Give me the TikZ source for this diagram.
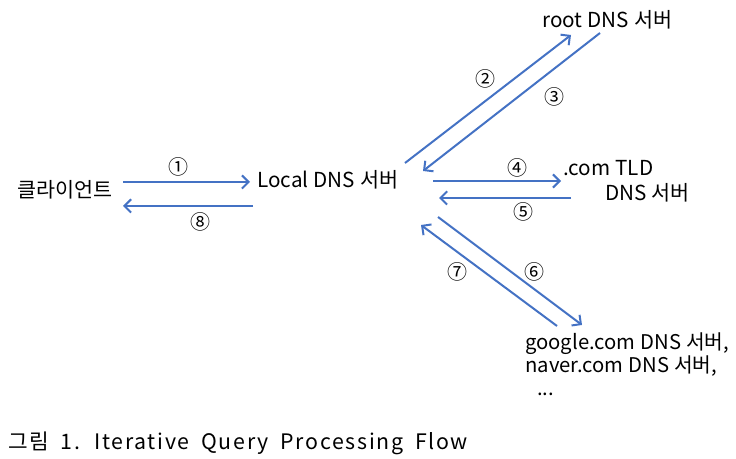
\documentclass[tikz,border=0pt]{standalone}
\usepackage{fontspec}
\setmainfont{Noto Sans CJK KR}
\newfontfamily\lblfont[WordSpace=1.6]{Noto Sans CJK KR}
\newfontfamily\authfont[WordSpace=1.1]{Noto Sans CJK KR}
\newfontfamily\capfont[LetterSpace=8,WordSpace=1.8]{Noto Sans CJK KR}
\usetikzlibrary{arrows.meta}
\definecolor{arrowblue}{RGB}{68,114,196}
\begin{document}
\begin{tikzpicture}[x=0.75pt,y=-0.75pt,
  lbl/.style={inner sep=0pt, font=\lblfont\fontsize{15.5}{17.25}\selectfont, text=black},
  num/.style={inner sep=0pt, font=\fontsize{15}{15}\selectfont, text=black},
  flow/.style={draw=arrowblue, line width=1.5pt, -{Straight Barb[length=5pt,width=10pt,line width=1.5pt]}}]
\useasboundingbox (0,0) rectangle (736,459);
% nodes
\node[lbl,anchor=west] (client) at (17,190) {클라이언트};
\node[lbl,anchor=west] (local) at (257,180) {Local DNS 서버};
\node[lbl,anchor=west] (root) at (542,20) {root DNS 서버};
\node[lbl,anchor=west] (tld) at (563,168) {.com TLD};
\node[lbl,anchor=west] (tldb) at (605,193) {DNS 서버};
\node[lbl,font=\authfont\fontsize{15.2}{17.25}\selectfont,anchor=north west,align=left] (auth) at (525,332) {google.com DNS 서버,\\naver.com DNS 서버,\\\hspace*{9pt}...};
\node[anchor=west,inner sep=0pt,font=\capfont\fontsize{16}{18}\selectfont] (cap) at (8,443) {그림 1. Iterative Query Processing Flow};
% connector end points
\coordinate (a1s) at (123,182); \coordinate (a1e) at (250,182);
\coordinate (a8s) at (253,206); \coordinate (a8e) at (123,206);
\coordinate (a2s) at (405,163); \coordinate (a2e) at (571,35);
\coordinate (a3s) at (600,33);  \coordinate (a3e) at (423,171);
\coordinate (a4s) at (433,181); \coordinate (a4e) at (561,181);
\coordinate (a5s) at (571,198); \coordinate (a5e) at (439,198);
\coordinate (a6s) at (438,217); \coordinate (a6e) at (582,325);
\coordinate (a7s) at (557,326); \coordinate (a7e) at (421,225);
% connectors
\draw[flow] (a1s) -- (a1e);
\draw[flow] (a8s) -- (a8e);
\draw[flow] (a2s) -- (a2e);
\draw[flow] (a3s) -- (a3e);
\draw[flow] (a4s) -- (a4e);
\draw[flow] (a5s) -- (a5e);
\draw[flow] (a6s) -- (a6e);
\draw[flow] (a7s) -- (a7e);
% step numbers
\node[num] (n1) at (178,167) {①};
\node[num] (n8) at (200,222) {⑧};
\node[num] (n2) at (485,79) {②};
\node[num] (n3) at (554,97) {③};
\node[num] (n4) at (517,168) {④};
\node[num] (n5) at (523,212) {⑤};
\node[num] (n6) at (534,272) {⑥};
\node[num] (n7) at (457,272) {⑦};
\end{tikzpicture}
\end{document}
